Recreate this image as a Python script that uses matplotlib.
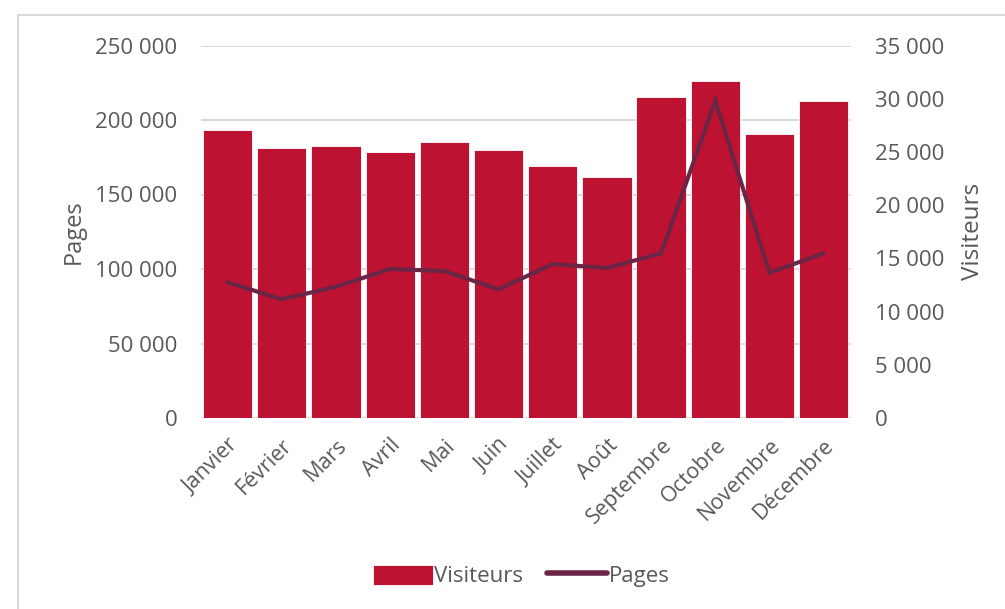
import matplotlib
matplotlib.use("Agg")
import matplotlib.pyplot as plt
from matplotlib.patches import Rectangle
from matplotlib.ticker import FixedLocator, FuncFormatter

months = ["Janvier", "Février", "Mars", "Avril", "Mai", "Juin", "Juillet",
          "Août", "Septembre", "Octobre", "Novembre", "Décembre"]
visiteurs = [27090, 25370, 25560, 24970, 25960, 25210, 23680, 22670,
             30190, 31640, 26690, 29790]
pages = [91070, 79660, 88120, 100000, 98650, 86370, 103350, 100670,
         110530, 212940, 97510, 110530]
pages_ticks = [0, 50000, 100000, 150000, 200000, 250000]
visit_ticks = [0, 5000, 10000, 15000, 20000, 25000, 30000, 35000]

BAR = "#BE1232"
LINE = "#6B2547"
TXT = "#595959"
GRID = "#D9D9D9"

plt.rcParams["font.family"] = ["Open Sans", "DejaVu Sans"]

fig = plt.figure(figsize=(10.05, 6.09), dpi=100)
W, H = 1005, 609
ax1 = fig.add_axes([200.5 / W, 1 - 418 / H, (850.8 - 200.5) / W, (418 - 45.5) / H])
ax2 = ax1.twinx()
ax3 = ax1.twinx()

fmt = FuncFormatter(lambda v, p: f"{int(v):,}".replace(",", " "))

x = list(range(len(months)))
ax2.bar(x, visiteurs, width=0.91, color=BAR, edgecolor="white", linewidth=0.6,
        label="Visiteurs", zorder=2)
ax3.plot(x, pages, color=LINE, linewidth=3, solid_capstyle="round",
         solid_joinstyle="miter", label="Pages", zorder=3)

ax1.set_xlim(-0.5, len(months) - 0.5)
ax1.set_ylim(0, 250000)
ax3.set_ylim(0, 250000)
ax2.set_ylim(0, 35000)

ax1.yaxis.set_major_locator(FixedLocator(pages_ticks))
ax1.yaxis.set_major_formatter(fmt)
ax2.yaxis.set_major_locator(FixedLocator(visit_ticks))
ax2.yaxis.set_major_formatter(fmt)
ax1.grid(axis="y", color=GRID, linewidth=1.4)
ax1.set_axisbelow(True)

for a in (ax1, ax2, ax3):
    for s in a.spines.values():
        s.set_visible(False)
    a.tick_params(length=0, colors=TXT, labelsize=16)

ax3.set_yticks([])
ax1.tick_params(axis="y", pad=16.5)
ax2.tick_params(axis="y", pad=17.5)

ax1.set_xticks(x)
ax1.set_xticklabels(months, rotation=45, ha="right", va="top",
                    rotation_mode="anchor", fontsize=15.5, color=TXT)
ax1.tick_params(axis="x", pad=12)

ax1.set_ylabel("Pages", fontsize=17, color=TXT, labelpad=7)
ax2.set_ylabel("Visiteurs", fontsize=17.5, color=TXT, labelpad=12)

h2, l2 = ax2.get_legend_handles_labels()
h3, l3 = ax3.get_legend_handles_labels()
leg = fig.legend(h2 + h3, l2 + l3, loc="center", bbox_to_anchor=(521 / W, 1 - 576 / H),
                 ncol=2, frameon=False, fontsize=16, handlelength=2.7,
                 handleheight=1.0, handletextpad=0.05, columnspacing=1.1)
for t in leg.get_texts():
    t.set_color(TXT)
for lh in leg.legend_handles:
    if not isinstance(lh, Rectangle):
        lh.set_linewidth(4)

fig.patches.append(Rectangle((18 / W, -0.1), 1.2, 1 - 15 / H + 0.1,
                             transform=fig.transFigure, fill=False,
                             edgecolor=GRID, linewidth=1.5))

fig.savefig("out.png", dpi=100)
